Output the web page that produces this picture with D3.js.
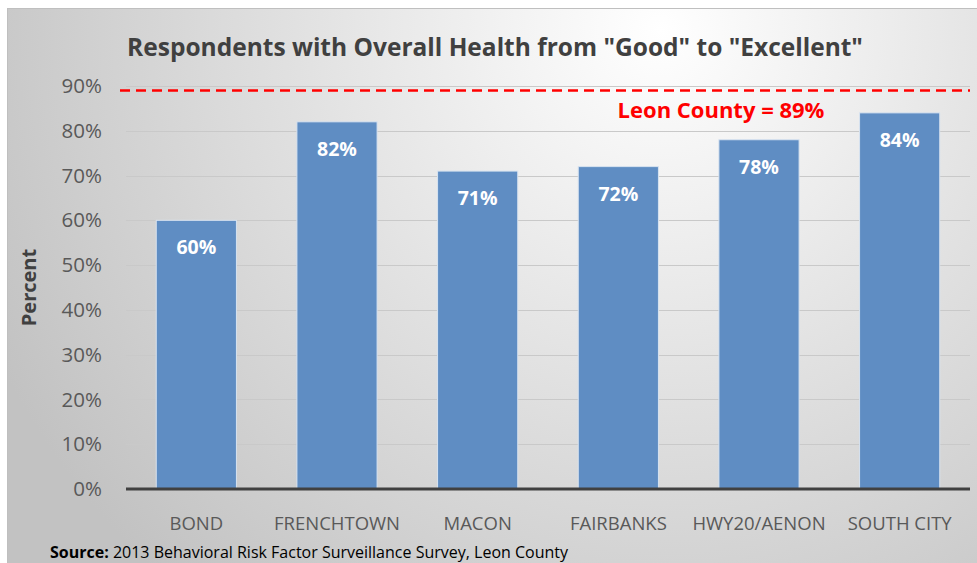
<!DOCTYPE html>
<html>
<head>
<meta charset="utf-8">
<script src="https://cdn.jsdelivr.net/npm/d3@7"></script>
<style>
  body { margin: 0; background: #ffffff; }
  svg { display: block; }
  svg text { font-family: "Open Sans", "Noto Sans", sans-serif; }
</style>
</head>
<body>
<svg id="chart" width="977" height="563"></svg>
<script>
// Data
const regions = ["BOND", "FRENCHTOWN", "MACON", "FAIRBANKS", "HWY20/AENON", "SOUTH CITY"];
const percents = [60, 82, 71, 72, 78, 84];
const yTicks = [0, 10, 20, 30, 40, 50, 60, 70, 80, 90];
const countyValue = 89;
const countyLabel = "Leon County = 89%";
const titleText = 'Respondents with Overall Health from "Good" to "Excellent"';

// Layout
const width = 977, height = 563;
const margin = {left: 126, right: 7, top: 86, bottom: 74};

const svg = d3.select("#chart");

// Background gradient
const defs = svg.append("defs");
const grad = defs.append("radialGradient")
    .attr("id", "bg")
    .attr("gradientUnits", "userSpaceOnUse")
    .attr("cx", 660).attr("cy", 30).attr("r", 740);
grad.append("stop").attr("offset", "0%").attr("stop-color", "#ffffff");
grad.append("stop").attr("offset", "100%").attr("stop-color", "#c2c2c2");

svg.append("rect")
    .attr("x", 7.5).attr("y", 8.5)
    .attr("width", width).attr("height", height)
    .attr("fill", "url(#bg)")
    .attr("stroke", "#bfbfbf")
    .attr("stroke-width", 1);

// Scales
const x = d3.scaleBand().domain(regions)
    .range([margin.left, width - margin.right])
    .paddingInner(0.43).paddingOuter(0.215);
const y = d3.scaleLinear().domain([0, 90]).range([height - margin.bottom, margin.top]);

// Gridlines
svg.append("g")
    .selectAll("line")
    .data(yTicks.filter(d => d > 0))
    .join("line")
    .attr("x1", margin.left).attr("x2", width - margin.right)
    .attr("y1", d => Math.round(y(d)) + 0.5).attr("y2", d => Math.round(y(d)) + 0.5)
    .attr("stroke", "#c9c9c9");

// Y axis labels
const yAxis = svg.append("g")
    .attr("transform", `translate(${margin.left},0)`)
    .call(d3.axisLeft(y).tickValues(yTicks).tickFormat(d => d + "%").tickSize(0).tickPadding(24));
yAxis.select(".domain").remove();
yAxis.selectAll("text")
    .attr("fill", "#595959")
    .style("font-family", '"Open Sans", sans-serif')
    .style("font-size", "20.5px");

// Bars
svg.append("g")
    .selectAll("rect")
    .data(percents)
    .join("rect")
    .attr("x", (d, i) => x(regions[i]))
    .attr("y", d => y(d))
    .attr("width", x.bandwidth())
    .attr("height", d => y(0) - y(d))
    .attr("fill", "#5f8dc3")
    .attr("stroke", "#d8e3f0")
    .attr("stroke-width", 1);

// Bar value labels
svg.append("g")
    .selectAll("text")
    .data(percents)
    .join("text")
    .attr("x", (d, i) => x(regions[i]) + x.bandwidth() / 2)
    .attr("y", d => y(d) + 34)
    .attr("text-anchor", "middle")
    .attr("fill", "#ffffff")
    .style("font-size", "19.5px")
    .style("font-weight", "bold")
    .text(d => d + "%");

// Baseline
svg.append("line")
    .attr("x1", margin.left).attr("x2", width - margin.right)
    .attr("y1", y(0)).attr("y2", y(0))
    .attr("stroke", "#404040")
    .attr("stroke-width", 3);

// X axis labels
const xAxis = svg.append("g")
    .attr("transform", `translate(0,${y(0)})`)
    .call(d3.axisBottom(x).tickSize(0).tickPadding(28));
xAxis.select(".domain").remove();
xAxis.selectAll("text")
    .attr("fill", "#595959")
    .style("font-family", '"Open Sans", sans-serif')
    .style("font-size", "18.5px");

// County reference line
svg.append("line")
    .attr("x1", 120).attr("x2", width - margin.right)
    .attr("y1", y(countyValue)).attr("y2", y(countyValue))
    .attr("stroke", "#ff0000")
    .attr("stroke-width", 2.5)
    .attr("stroke-dasharray", "10,6");

svg.append("text")
    .attr("x", 721)
    .attr("y", y(countyValue) + 28)
    .attr("text-anchor", "middle")
    .attr("fill", "#ff0000")
    .style("font-size", "22px")
    .style("font-weight", "bold")
    .text(countyLabel);

// Title
svg.append("text")
    .attr("x", 495).attr("y", 56)
    .attr("text-anchor", "middle")
    .attr("fill", "#404040")
    .style("font-size", "24.5px")
    .style("font-weight", "bold")
    .text(titleText);

// Y axis title
svg.append("text")
    .attr("transform", `translate(36,${(y(0) + y(90)) / 2}) rotate(-90)`)
    .attr("text-anchor", "middle")
    .attr("fill", "#404040")
    .style("font-size", "20px")
    .style("font-weight", "bold")
    .text("Percent");

// Source
const src = svg.append("text")
    .attr("x", 50).attr("y", 558)
    .attr("fill", "#000000")
    .style("font-size", "16px");
src.append("tspan").style("font-weight", "bold").text("Source:");
src.append("tspan").text(" 2013 Behavioral Risk Factor Surveillance Survey, Leon County");
</script>
</body>
</html>
